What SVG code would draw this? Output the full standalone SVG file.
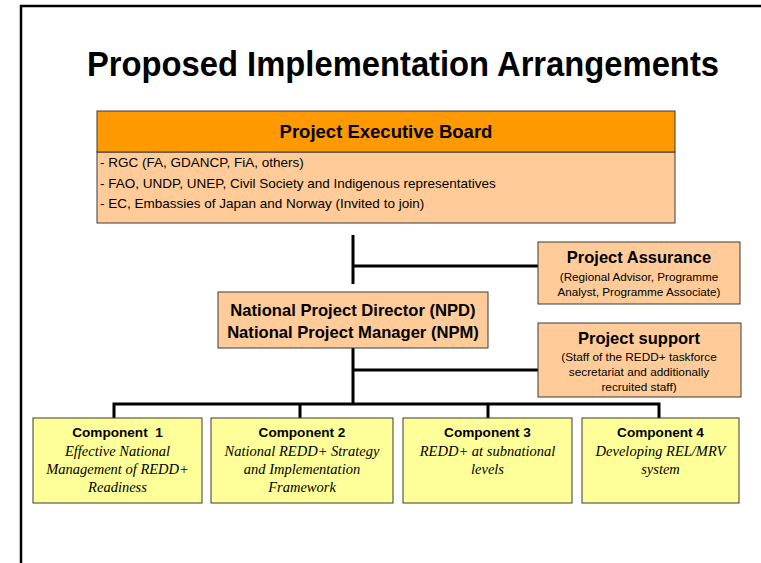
<svg xmlns="http://www.w3.org/2000/svg" width="761" height="563" viewBox="0 0 761 563">
<style>
.sans{font-family:"Liberation Sans",Arial,sans-serif}
.b{font-weight:bold}
.ser{font-family:"Liberation Serif","DejaVu Serif",serif;font-style:italic;font-size:14.5px}
.box{stroke:#3a3a3a;stroke-width:1}
.peach{fill:#FFCC99}
.yel{fill:#FFFF99}
.conn{stroke:#000;stroke-width:3;fill:none}
text{fill:#000}
</style>
<rect x="0" y="0" width="761" height="563" fill="#fff"/>
<path d="M21 563 V6 H761" fill="none" stroke="#000" stroke-width="2.5"/>
<text x="403" y="76" class="sans b" font-size="35" text-anchor="middle" textLength="632" lengthAdjust="spacingAndGlyphs">Proposed Implementation Arrangements</text>

<g id="connectors">
<path class="conn" d="M353 235 V284 M353 266 H538"/>
<path class="conn" d="M353 348 V404 M353 370 H538"/>
<path class="conn" d="M114 418 V404 H659 V418 M300 404 V418 M488 404 V418"/>
</g>

<g id="board">
<rect x="97" y="152" width="578" height="71" class="box peach"/>
<rect x="97" y="111" width="578" height="41" class="box" fill="#FF9900"/>
<text x="386" y="138" class="sans b" font-size="18.5" text-anchor="middle">Project Executive Board</text>
<text x="100" y="167" class="sans" font-size="13.5">- RGC (FA, GDANCP, FiA, others)</text>
<text x="100" y="188" class="sans" font-size="13.5">- FAO, UNDP, UNEP, Civil Society and Indigenous representatives</text>
<text x="100" y="208" class="sans" font-size="13.5">- EC, Embassies of Japan and Norway (Invited to join)</text>
</g>

<g id="assurance">
<rect x="538" y="242" width="202" height="62" class="box peach"/>
<text x="639" y="263" class="sans b" font-size="16.5" text-anchor="middle">Project Assurance</text>
<text x="639" y="281" class="sans" font-size="11.7" text-anchor="middle">(Regional Advisor, Programme</text>
<text x="639" y="296" class="sans" font-size="11.7" text-anchor="middle">Analyst, Programme Associate)</text>
</g>

<g id="npd">
<rect x="218" y="292" width="270" height="56" class="box peach"/>
<text x="353" y="316" class="sans b" font-size="16.6" text-anchor="middle">National Project Director (NPD)</text>
<text x="353" y="338" class="sans b" font-size="16.6" text-anchor="middle">National Project Manager (NPM)</text>
</g>

<g id="support">
<rect x="538" y="323" width="203" height="74" class="box peach"/>
<text x="639" y="344" class="sans b" font-size="16.5" text-anchor="middle">Project support</text>
<text x="639" y="361" class="sans" font-size="11.8" text-anchor="middle">(Staff of the REDD+ taskforce</text>
<text x="639" y="376" class="sans" font-size="11.8" text-anchor="middle">secretariat and additionally</text>
<text x="639" y="391" class="sans" font-size="11.8" text-anchor="middle">recruited staff)</text>
</g>

<g id="component1">
<rect x="33" y="418" width="169" height="85" class="box yel"/>
<text x="117.5" y="437" class="sans b" font-size="13.6" text-anchor="middle" xml:space="preserve">Component  1</text>
<text x="117.5" y="456" class="ser" text-anchor="middle">Effective National</text>
<text x="117.5" y="474" class="ser" text-anchor="middle">Management of REDD+</text>
<text x="117.5" y="492" class="ser" text-anchor="middle">Readiness</text>
</g>

<g id="component2">
<rect x="211" y="418" width="182" height="85" class="box yel"/>
<text x="302" y="437" class="sans b" font-size="13.6" text-anchor="middle">Component 2</text>
<text x="302" y="456" class="ser" text-anchor="middle">National REDD+ Strategy</text>
<text x="302" y="474" class="ser" text-anchor="middle">and Implementation</text>
<text x="302" y="492" class="ser" text-anchor="middle">Framework</text>
</g>

<g id="component3">
<rect x="403" y="418" width="169" height="85" class="box yel"/>
<text x="487.5" y="437" class="sans b" font-size="13.6" text-anchor="middle">Component 3</text>
<text x="487.5" y="456" class="ser" text-anchor="middle">REDD+ at subnational</text>
<text x="487.5" y="474" class="ser" text-anchor="middle">levels</text>
</g>

<g id="component4">
<rect x="582" y="418" width="157" height="85" class="box yel"/>
<text x="660.5" y="437" class="sans b" font-size="13.6" text-anchor="middle">Component 4</text>
<text x="660.5" y="456" class="ser" text-anchor="middle">Developing REL/MRV</text>
<text x="660.5" y="474" class="ser" text-anchor="middle">system</text>
</g>
</svg>
